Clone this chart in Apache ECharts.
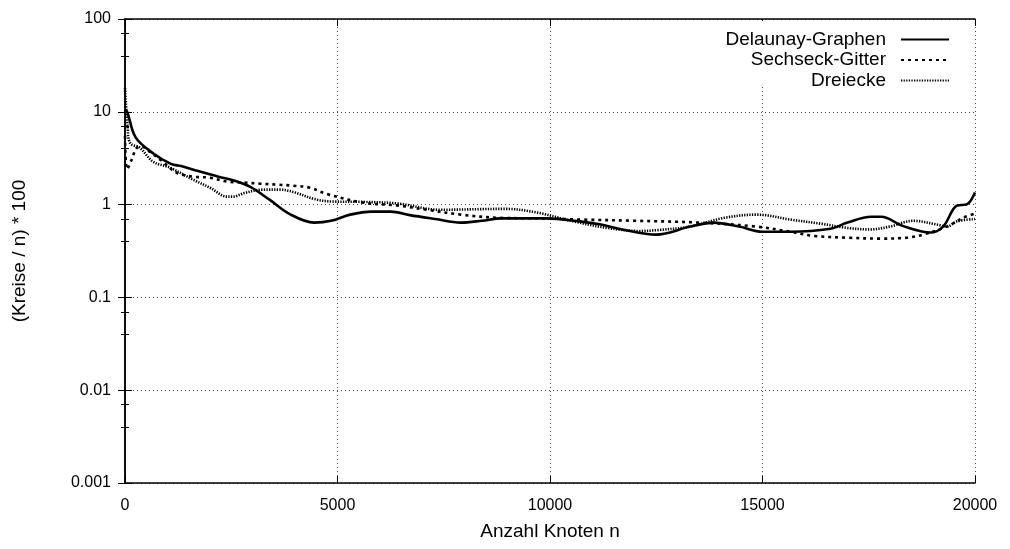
<!DOCTYPE html>
<html>
<head>
<meta charset="utf-8">
<script src="https://cdn.jsdelivr.net/npm/echarts@6/dist/echarts.min.js"></script>
<style>
  html, body { margin: 0; padding: 0; background: #fff; }
  #chart { width: 1010px; height: 549px; }
</style>
</head>
<body>
<div id="chart"></div>
<script>
// series names
var seriesNames = ['Delaunay-Graphen', 'Sechseck-Gitter', 'Dreiecke'];

// [Anzahl Knoten n, (Kreise / n) * 100]
var delaunay = [
  [0, 10.5], [50, 10], [250, 5.3], [650, 3.6], [1080, 2.75], [1320, 2.6], [1720, 2.3],
  [2200, 2.0], [2600, 1.8], [2950, 1.55], [3400, 1.13], [3900, 0.78], [4450, 0.64],
  [4850, 0.67], [5300, 0.78], [5800, 0.84], [6250, 0.84], [6700, 0.77], [7300, 0.70],
  [7900, 0.64], [8400, 0.67], [8850, 0.71], [9900, 0.71], [10700, 0.66], [11200, 0.61],
  [11700, 0.54], [12500, 0.475], [13300, 0.58], [13850, 0.64], [14450, 0.58], [15000, 0.51],
  [15650, 0.51], [16600, 0.55], [17000, 0.64], [17550, 0.74], [17800, 0.74], [18300, 0.59],
  [18950, 0.5], [19250, 0.58], [19580, 0.98], [19800, 1.0], [20000, 1.35]
];

var sechseck = [
  [0, 5.5], [50, 2.4], [150, 3.0], [280, 4.1], [400, 4.2], [590, 3.7], [830, 3.05],
  [1220, 2.2], [1600, 2.0], [2000, 1.95], [2400, 1.77], [2780, 1.73], [3180, 1.68],
  [3580, 1.64], [3950, 1.6], [4350, 1.52], [4750, 1.3], [5600, 1.05], [6400, 0.98],
  [7100, 0.88], [7900, 0.78], [8800, 0.72], [9900, 0.71], [10700, 0.69], [12000, 0.67],
  [13500, 0.64], [14850, 0.58], [15650, 0.51], [16200, 0.46], [17000, 0.44], [17770, 0.43],
  [18400, 0.44], [18780, 0.475], [19340, 0.58], [19720, 0.72], [20000, 0.8]
];

var dreiecke = [
  [0, 18], [60, 7], [120, 4.6], [350, 4.1], [660, 2.9], [1060, 2.5], [1600, 1.86],
  [2000, 1.52], [2400, 1.22], [2550, 1.22], [2800, 1.33], [3250, 1.45], [3650, 1.45],
  [4000, 1.35], [4450, 1.15], [4850, 1.08], [5600, 1.07], [6400, 1.03], [7400, 0.88],
  [8950, 0.9], [9700, 0.82], [10550, 0.66], [11350, 0.56], [12100, 0.52], [12500, 0.53],
  [13300, 0.58], [14100, 0.72], [14870, 0.78], [15650, 0.69], [16400, 0.62], [17000, 0.56],
  [17530, 0.54], [18000, 0.58], [18550, 0.67], [19100, 0.61], [19340, 0.58], [19580, 0.66],
  [20000, 0.7]
];

// axis ticks
var xTicks = [0, 5000, 10000, 15000, 20000];
var yTickLabels = ['0.001', '0.01', '0.1', '1', '10', '100'];

var font = 'Liberation Sans, Arial, sans-serif';
var gridLine = { show: true, lineStyle: { color: '#444', width: 1, type: [1, 3] } };

function yLabel(v) {
  var e = Math.round(Math.log10(v));
  return yTickLabels[e + 3];
}

var myChart = echarts.init(document.getElementById('chart'));

var lineStyles = [
  { color: '#000', width: 2.6, type: 'solid' },
  { color: '#000', width: 2.6, type: [3, 4] },
  { color: '#000', width: 2.6, type: [1.3, 1.3] }
];
var seriesData = [delaunay, sechseck, dreiecke];

var series = seriesData.map(function (d, i) {
  return {
    name: seriesNames[i],
    type: 'line',
    data: d,
    smooth: 0.35,
    symbol: 'none',
    showSymbol: false,
    lineStyle: lineStyles[i],
    z: 5 - i,
    animation: false
  };
});

var legends = seriesNames.map(function (name, i) {
  return {
    data: [name],
    right: 60,
    top: 30 + i * 20.5,
    orient: 'horizontal',
    align: 'right',
    padding: 0,
    itemWidth: 48,
    itemHeight: 14,
    selectedMode: false,
    z: 10,
    itemStyle: { opacity: 0 },
    textStyle: { fontFamily: font, fontSize: 19, color: '#000', padding: [0, 10, 0, 0] }
  };
});

var options = {
  animation: false,
  backgroundColor: '#fff',
  grid: { left: 125, right: 35, top: 19, bottom: 66, show: false },
  legend: legends,
  graphic: [{
    type: 'rect',
    z: 3,
    shape: { x: 700, y: 21, width: 273, height: 66 },
    style: { fill: '#fff' }
  }],
  xAxis: [{
    type: 'value',
    min: 0,
    max: 20000,
    interval: 5000,
    name: 'Anzahl Knoten n',
    nameLocation: 'middle',
    nameGap: 39,
    nameTextStyle: { fontFamily: font, fontSize: 19, color: '#000' },
    axisLine: { show: true, lineStyle: { color: '#000', width: 1.5 } },
    axisTick: { show: true, inside: true, length: 7, lineStyle: { color: '#000' } },
    axisLabel: { fontFamily: font, fontSize: 16, color: '#000', margin: 15,
      formatter: function (v) { return xTicks.indexOf(v) >= 0 ? String(v) : ''; } },
    splitLine: gridLine
  }, {
    type: 'value',
    position: 'top',
    min: 0,
    max: 20000,
    interval: 5000,
    axisLine: { show: true, lineStyle: { color: '#000', width: 1.5 } },
    axisTick: { show: true, inside: true, length: 7, lineStyle: { color: '#000' } },
    axisLabel: { show: false },
    splitLine: { show: false }
  }],
  yAxis: [{
    type: 'log',
    logBase: 10,
    min: 0.001,
    max: 100,
    name: '(Kreise / n) * 100',
    nameLocation: 'middle',
    nameGap: 96,
    nameTextStyle: { fontFamily: font, fontSize: 19, color: '#000' },
    axisLine: { show: true, lineStyle: { color: '#000', width: 1.5 } },
    axisTick: { show: true, inside: true, length: 7, lineStyle: { color: '#000' } },
    minorTick: { show: true, splitNumber: 3, length: 4, lineStyle: { color: '#000' } },
    axisLabel: { fontFamily: font, fontSize: 16, color: '#000', margin: 14, formatter: yLabel },
    splitLine: gridLine
  }, {
    type: 'log',
    logBase: 10,
    min: 0.001,
    max: 100,
    position: 'right',
    axisLine: { show: true, lineStyle: { color: '#000', width: 1.5 } },
    axisTick: { show: true, inside: true, length: 7, lineStyle: { color: '#000' } },
    minorTick: { show: true, splitNumber: 3, length: 4, lineStyle: { color: '#000' } },
    axisLabel: { show: false },
    splitLine: { show: false }
  }],
  series: series
};

myChart.setOption(options, true);
</script>
</body>
</html>
